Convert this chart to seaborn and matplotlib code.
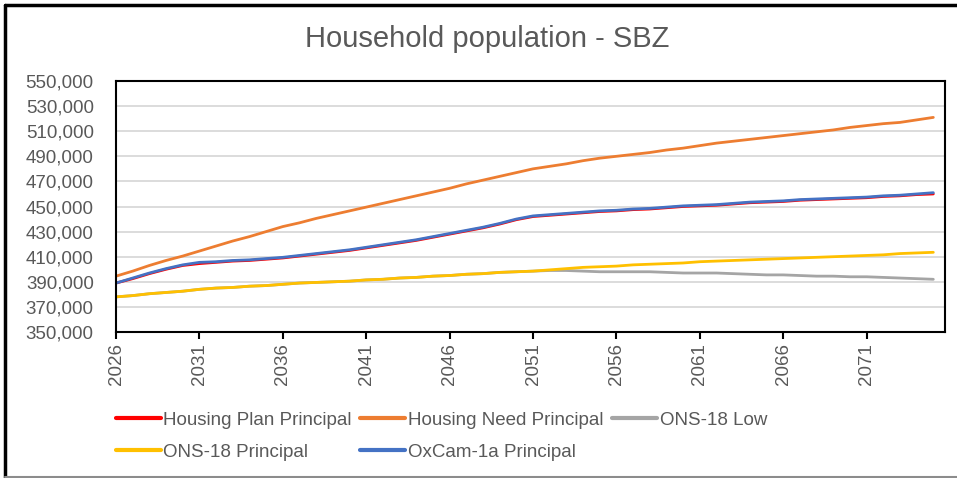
import numpy as np
import pandas as pd
import matplotlib
matplotlib.use("Agg")
import matplotlib.pyplot as plt
import seaborn as sns
from matplotlib.lines import Line2D

years = list(range(2026, 2076))

housing_plan = [389, 392.5, 396.5, 400, 403, 404.5, 405.5, 406.5, 407, 408,
                409, 410.5, 412, 413.5, 415, 417, 419, 421, 423, 425.5,
                428, 430.5, 433, 436, 439.5, 442, 443, 444, 445, 446,
                446.5, 447.5, 448, 449, 450, 450.5, 451, 452, 453, 453.5,
                454, 455, 455.5, 456, 456.5, 457, 458, 458.5, 459.5, 460]
housing_need = [394.5, 398.5, 403, 407, 410.5, 414.5, 418.5, 422.5, 426, 430,
                434, 437, 440.5, 443.5, 446.5, 449.5, 452.5, 455.5, 458.5, 461.5,
                464.5, 468, 471, 474, 477, 480, 482, 484, 486.5, 488.5,
                490, 491.5, 493, 495, 496.5, 498.5, 500.5, 502, 503.5, 505,
                506.5, 508, 509.5, 511, 513, 514.5, 516, 517, 519, 521]
ons18_low = [378, 379, 380.5, 381.5, 382.5, 384, 385, 385.5, 386.5, 387,
             388, 389, 389.5, 390, 390.5, 391.5, 392, 393, 393.5, 394.5,
             395, 396, 396.5, 397.5, 398, 398.5, 399, 399, 398.5, 398,
             398, 398, 398, 397.5, 397, 397, 397, 396.5, 396, 395.5,
             395.5, 395, 394.5, 394.5, 394, 394, 393.5, 393, 392.5, 392]
ons18_principal = [378, 379, 380.5, 381.5, 382.5, 384, 385, 385.5, 386.5, 387,
                   388, 389, 389.5, 390, 390.5, 391.5, 392, 393, 393.5, 394.5,
                   395, 396, 396.5, 397.5, 398, 398.5, 399.5, 400.5, 401.5, 402,
                   402.5, 403.5, 404, 404.5, 405, 406, 406.5, 407, 407.5, 408,
                   408.5, 409, 409.5, 410, 410.5, 411, 411.5, 412.5, 413, 413.5]
oxcam = [389, 393, 397, 400.5, 403.5, 405.5, 406, 407, 407.5, 408.5,
         409.5, 411, 412.5, 414, 415.5, 417.5, 419.5, 421.5, 423.5, 426,
         428.5, 431, 433.5, 436.5, 440, 442.5, 443.5, 444.5, 445.5, 446.5,
         447, 448, 448.5, 449.5, 450.5, 451, 451.5, 452.5, 453.5, 454,
         454.5, 455.5, 456, 456.5, 457, 457.5, 458.5, 459, 460, 461]

series_names = ["Housing Plan Principal", "Housing Need Principal", "ONS-18 Low",
                "ONS-18 Principal", "OxCam-1a Principal"]
series_values = [housing_plan, housing_need, ons18_low, ons18_principal, oxcam]
colors = ["#FF0000", "#ED7D31", "#A5A5A5", "#FFC000", "#4472C4"]

frames = []
for name, vals in zip(series_names, series_values):
    frames.append(pd.DataFrame({"Year": years, "Value": np.array(vals) * 1000, "Series": name}))
df = pd.concat(frames, ignore_index=True)

sns.set_style("white")
plt.rcParams['font.family'] = ['Liberation Sans', 'DejaVu Sans']

fig = plt.figure(figsize=(9.57, 4.78), dpi=100)
ax = fig.add_axes([116/957, 1-332/478, (945-116)/957, (332-81)/478])

palette = dict(zip(series_names, colors))
sns.lineplot(data=df, x="Year", y="Value", hue="Series", hue_order=series_names,
             palette=palette, linewidth=2.0, ax=ax, legend=False, estimator=None)

ax.set_xlim(2026, 2075.7)
ax.set_ylim(350000, 550000)
ax.set_yticks(np.arange(350000, 550001, 20000))
ax.set_yticklabels([f"{v:,}" for v in range(350000, 550001, 20000)])
ax.set_xticks(list(range(2026, 2072, 5)))
ax.set_xticklabels([str(y) for y in range(2026, 2072, 5)], rotation=90)
ax.set_xlabel("")
ax.set_ylabel("")
ax.grid(axis="y", color="#D9D9D9", linewidth=1.3)
ax.set_axisbelow(True)
for s in ax.spines.values():
    s.set_color("black")
    s.set_linewidth(1.5)
    s.set_visible(True)
ax.tick_params(axis="y", length=0, labelsize=13.5, labelcolor="#595959", pad=16)
ax.tick_params(axis="x", length=5, width=1.5, color="black", direction="out",
               labelsize=13.5, labelcolor="#595959", pad=3, bottom=True)

fig.text(487/957, 1-39/478, "Household population - SBZ", ha="center", va="center",
         fontsize=21, color="#595959")

handles = [Line2D([0], [0], color=c, lw=3) for c in colors]
order = [0, 3, 1, 4, 2]
leg = fig.legend([handles[i] for i in order], [series_names[i] for i in order],
                 ncol=3, loc="upper left", bbox_to_anchor=(108/957, 1-404/478),
                 frameon=False, fontsize=13.5, handlelength=2.4, handletextpad=0.15,
                 columnspacing=0.45, labelspacing=0.8, borderaxespad=0)
for t in leg.get_texts():
    t.set_color("#595959")

# chart frame
fig.add_artist(Line2D([5/957, 1], [1-5/478, 1-5/478], color="black", lw=2.5, transform=fig.transFigure))
fig.add_artist(Line2D([5/957, 5/957], [1-5/478, 0], color="black", lw=2.5, transform=fig.transFigure))
fig.add_artist(Line2D([5/957, 1], [1.5/478, 1.5/478], color="#8C8C8C", lw=1.5, transform=fig.transFigure))

fig.savefig("out.png", dpi=100)
